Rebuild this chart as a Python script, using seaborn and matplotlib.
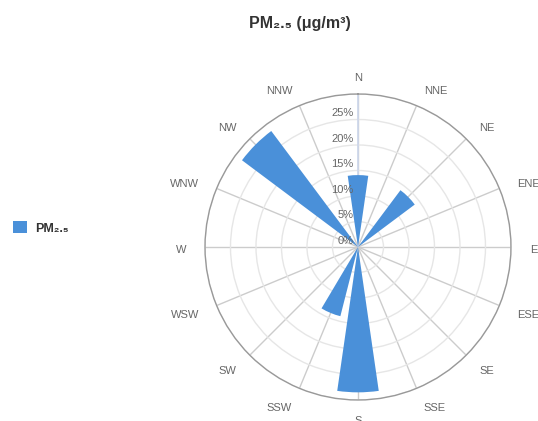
import matplotlib.pyplot as plt
import seaborn as sns
import numpy as np
from matplotlib.patches import Patch

# wind rose data (percent of time per direction)
directions = ['N', 'NNE', 'NE', 'ENE', 'E', 'ESE', 'SE', 'SSE',
              'S', 'SSW', 'SW', 'WSW', 'W', 'WNW', 'NW', 'NNW']
pm25_pct = [14.1, 0, 13.9, 0, 0, 0, 0, 0,
            28.5, 14.0, 0, 0, 0, 0, 28.4, 0]
r_ticks = [0, 5, 10, 15, 20, 25]
r_tick_labels = ['0%', '5%', '10%', '15%', '20%', '25%']

sns.set_style('white')
plt.rcParams['font.family'] = ['Liberation Sans', 'DejaVu Sans']

bar_color = '#4a90d9'
label_color = '#666666'

fig = plt.figure(figsize=(5.38, 4.21), dpi=100)
ax = fig.add_axes([0.381, 0.0499, 0.5688, 0.7268], projection='polar')

ax.set_theta_zero_location('N')
ax.set_theta_direction(-1)

theta = np.arange(len(directions)) * 2 * np.pi / len(directions)
width = 0.73 * 2 * np.pi / len(directions)
ax.bar(theta, pm25_pct, width=width, color=bar_color, edgecolor='none', zorder=3)

ax.set_ylim(0, 30)
ax.set_yticks([5, 10, 15, 20, 25, 30])
ax.set_yticklabels([])
ax.set_xticks(theta)
ax.set_xticklabels([])
ax.yaxis.grid(True, color='#e6e6e6', linewidth=1)
ax.xaxis.grid(True, color='#cccccc', linewidth=1)
ax.spines['polar'].set_color('#999999')
ax.spines['polar'].set_linewidth(1)

# the north axis line is drawn in blue-grey
ax.plot([0, 0], [0, 30], color='#ccd6eb', linewidth=1.2, zorder=2)

# radial labels along the north spoke
for rv, lab in zip(r_ticks, r_tick_labels):
    ax.annotate(lab, xy=(0, rv), xytext=(-3, 4.5), textcoords='offset points',
                ha='right', va='center', fontsize=8, color=label_color, zorder=4)

# direction labels outside the circle, anchored like highcharts
r_lab = 30 * 172 / 153
for t, d in zip(theta, directions):
    sx = np.sin(t)
    if abs(sx) < 0.01:
        ha = 'center'
    elif sx > 0:
        ha = 'left'
    else:
        ha = 'right'
    ax.annotate(d, xy=(t, r_lab), xytext=(0, -1.8), textcoords='offset points',
                ha=ha, va='center', fontsize=8, color=label_color,
                annotation_clip=False)

fig.text(0.558, 0.943, 'PM₂.₅ (μg/m³)', ha='center', va='center',
         fontsize=11.5, fontweight='bold', color='#333333')

handle = Patch(facecolor=bar_color, edgecolor='none')
fig.legend([handle], ['PM₂.₅'], loc='center left', bbox_to_anchor=(0.003, 1 - 228 / 421),
           frameon=False, handlelength=1.1, handleheight=1.1, handletextpad=0.7,
           prop={'size': 9, 'weight': 'bold'}, labelcolor='#333333')

fig.savefig('out.png', dpi=100)
